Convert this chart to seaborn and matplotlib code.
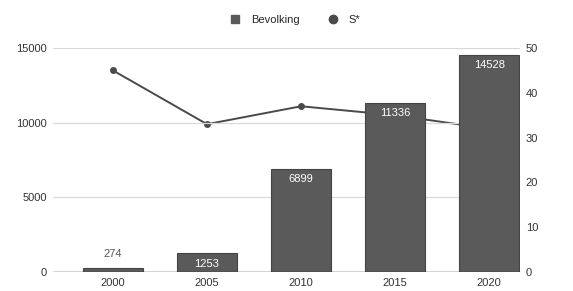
import numpy as np
import pandas as pd
import seaborn as sns
from matplotlib import pyplot as plt
from matplotlib.lines import Line2D

years = ['2000', '2005', '2010', '2015', '2020']
bevolking = [274, 1253, 6899, 11336, 14528]
s_star = [45, 33, 37, 35, 32]

sns.set_theme(style='white')
plt.rcParams['font.family'] = ['Liberation Sans', 'DejaVu Sans']

bar_col = '#5a5a5a'
line_col = '#4a4a4a'
txt_col = '#333333'

fig = plt.figure(figsize=(5.73, 2.91), dpi=100)
ax = fig.add_axes([0.092, 0.065, 0.816, 0.77])
ax2 = ax.twinx()

df = pd.DataFrame({'year': years, 'bev': bevolking})
sns.barplot(data=df, x='year', y='bev', color=bar_col, saturation=1, width=0.64, ax=ax,
            zorder=3, edgecolor='#444444', linewidth=0.8)

#line sits behind the bars
sns.lineplot(x=np.arange(len(years)), y=s_star, ax=ax2, color=line_col, marker='o',
             markersize=5, linewidth=1.4, markeredgewidth=0)
ax.set_zorder(ax2.get_zorder() + 1)
ax.patch.set_visible(False)

ax.set_ylim(0, 15000)
ax2.set_ylim(0, 50)
ax.set_xlim(-0.64, 4.33)
ax.set_yticks([0, 5000, 10000, 15000])
ax2.set_yticks([0, 10, 20, 30, 40, 50])
ax.yaxis.grid(True, color='#d9d9d9', linewidth=0.9)
ax.set_axisbelow(True)

for a in (ax, ax2):
    for s in a.spines.values():
        s.set_visible(False)
    a.set_xlabel('')
    a.set_ylabel('')
    a.tick_params(length=0, labelsize=8, colors=txt_col, pad=4)
ax.axhline(0, color='#333333', linewidth=1, zorder=4)

for i, v in enumerate(bevolking):
    if v < 1000:
        ax.text(i, v + 600, str(v), ha='center', va='bottom', fontsize=8, color='#555555')
    else:
        ax.text(i, v - 350, str(v), ha='center', va='top', fontsize=8, color='white', zorder=5)

handles = [Line2D([], [], marker='s', linestyle='', color=bar_col, markersize=6),
           Line2D([], [], marker='o', linestyle='', color=line_col, markersize=6)]
fig.legend(handles, ['Bevolking', 'S*'], loc='center', bbox_to_anchor=(0.51, 0.93), ncol=2,
           frameon=False, fontsize=8, handletextpad=0.4, columnspacing=2.0)

plt.savefig('out.png', dpi=100)
